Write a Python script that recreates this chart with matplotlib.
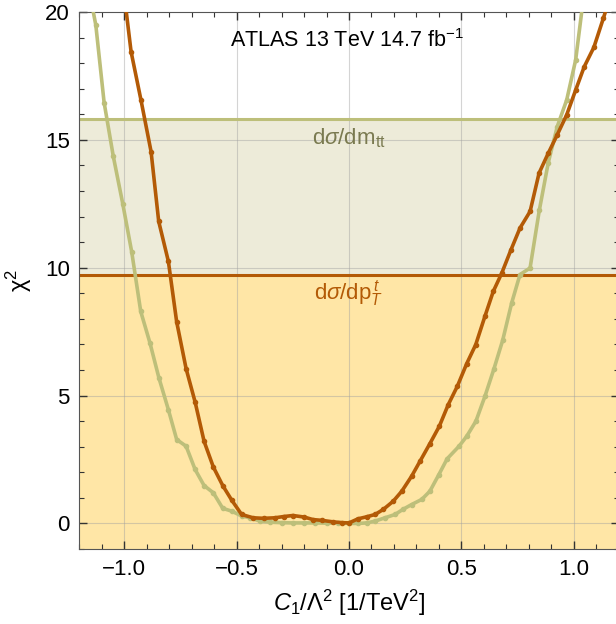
import numpy as np
import matplotlib
matplotlib.use("Agg")
import matplotlib.pyplot as plt
from matplotlib.ticker import MultipleLocator

plt.rcParams['font.family'] = ['Liberation Sans', 'DejaVu Sans']
plt.rcParams['mathtext.fontset'] = 'custom'
plt.rcParams['mathtext.rm'] = 'Liberation Sans'
plt.rcParams['mathtext.it'] = 'Liberation Sans:italic'

# chi^2 scan, dsigma/dpT (orange)
pt_x = [-1.005, -0.970, -0.926, -0.881, -0.847, -0.804, -0.767, -0.725, -0.685, -0.645,
        -0.604, -0.562, -0.522, -0.478, -0.427, -0.38, -0.33, -0.29, -0.25, -0.20,
        -0.16, -0.12, -0.07, -0.03, 0.0, 0.04, 0.079, 0.116, 0.153, 0.197,
        0.235, 0.279, 0.316, 0.36, 0.402, 0.442, 0.482, 0.524, 0.564, 0.605,
        0.642, 0.680, 0.72, 0.761, 0.806, 0.846, 0.887, 0.927, 0.969, 1.009,
        1.047, 1.09, 1.132, 1.17]
pt_y = [21.0, 18.45, 16.56, 14.54, 11.81, 10.25, 7.88, 6.05, 4.75, 3.21,
        2.21, 1.48, 0.91, 0.35, 0.22, 0.2, 0.22, 0.27, 0.31, 0.25,
        0.15, 0.12, 0.06, 0.03, 0.02, 0.18, 0.26, 0.35, 0.55, 0.87,
        1.26, 1.85, 2.43, 3.12, 3.80, 4.65, 5.36, 6.25, 6.99, 8.10,
        9.07, 9.79, 10.68, 11.55, 12.2, 13.7, 14.48, 15.2, 15.98, 16.95,
        17.86, 18.62, 19.75, 20.8]

# chi^2 scan, dsigma/dmtt (olive)
mtt_x = [-1.16, -1.127, -1.090, -1.049, -1.007, -0.967, -0.927, -0.886, -0.846, -0.804,
         -0.767, -0.725, -0.685, -0.645, -0.604, -0.562, -0.522, -0.478, -0.441, -0.396,
         -0.35, -0.3, -0.25, -0.2, -0.15, -0.1, -0.05, 0.0, 0.04, 0.079,
         0.116, 0.16, 0.205, 0.24, 0.279, 0.324, 0.36, 0.40, 0.437, 0.49,
         0.524, 0.565, 0.605, 0.645, 0.684, 0.724, 0.761, 0.806, 0.847, 0.887,
         0.927, 0.969, 1.009, 1.05]
mtt_y = [21.0, 19.49, 16.46, 14.35, 12.5, 10.61, 8.29, 7.06, 5.69, 4.45,
         3.28, 3.02, 2.11, 1.48, 1.20, 0.59, 0.48, 0.29, 0.22, 0.09,
         0.05, 0.03, 0.02, 0.02, 0.02, 0.01, 0.01, 0.0, 0.0, 0.02,
         0.09, 0.22, 0.35, 0.55, 0.74, 0.94, 1.26, 1.91, 2.53, 3.02,
         3.41, 4.0, 4.97, 6.04, 7.16, 8.62, 9.73, 9.99, 12.24, 14.11,
         15.52, 16.56, 18.13, 21.0]

# 95% CL thresholds
mtt_limit = 15.82
pt_limit = 9.73

c_pt = '#b35a06'
c_mtt = '#bdbf7a'

fig = plt.figure(figsize=(6.16, 6.24), dpi=100)
ax = fig.add_axes([79.4 / 616, 75 / 624, 539.2 / 616, 537 / 624])

ax.axhspan(-1, mtt_limit, color='#edebd9', lw=0, zorder=0)
ax.axhspan(-1, pt_limit, color='#ffe6a6', lw=0, zorder=0)
ax.axhline(mtt_limit, color=c_mtt, lw=2.2, zorder=2)
ax.axhline(pt_limit, color=c_pt, lw=2.2, zorder=2)

for v in [-1.0, -0.5, 0.0, 0.5, 1.0]:
    ax.axvline(v, color='#a0a0a0', lw=0.8, alpha=0.45, zorder=1)
for v in [0, 5, 10, 15]:
    ax.axhline(v, color='#a0a0a0', lw=0.8, alpha=0.45, zorder=1)

ax.plot(mtt_x, mtt_y, color=c_mtt, lw=2.6, marker='o', ms=3, zorder=3)
ax.plot(pt_x, pt_y, color=c_pt, lw=2.6, marker='o', ms=3, zorder=4)

ax.text(-0.01, 18.9, r'ATLAS 13 TeV 14.7 fb$^{-1}$', ha='center', va='center', fontsize=15.5)
ax.text(0.0, 15.05, r'd$\sigma$/dm$_{\mathrm{tt}}$', ha='center', va='center',
        fontsize=16, color='#7a7a50')
ax.text(0.0, 9.0, r'd$\sigma$/dp$_T^{\,t}$', ha='center', va='center',
        fontsize=16, color=c_pt)

ax.set_xlim(-1.2, 1.2)
ax.set_ylim(-1, 20)
ax.xaxis.set_major_locator(MultipleLocator(0.5))
ax.xaxis.set_minor_locator(MultipleLocator(0.1))
ax.yaxis.set_major_locator(MultipleLocator(5))
ax.yaxis.set_minor_locator(MultipleLocator(1))
ax.tick_params(which='both', direction='in', top=True, right=True, labelsize=16,
               color='#333333', pad=7)
ax.tick_params(which='major', length=6, width=1)
ax.tick_params(which='minor', length=3.5, width=0.8)
ax.set_xticks([-1.0, -0.5, 0.0, 0.5, 1.0])
ax.set_xticklabels(['\u22121.0', '\u22120.5', '0.0', '0.5', '1.0'])
for s in ax.spines.values():
    s.set_color('#555555')

ax.set_xlabel(r'$C_1$/$\mathrm{\Lambda}^2$ [1/TeV$^2$]', fontsize=17, labelpad=6)
ax.set_ylabel(r'$\mathrm{\chi}^2$', fontsize=17, labelpad=8)

fig.savefig('out.png', dpi=100)
